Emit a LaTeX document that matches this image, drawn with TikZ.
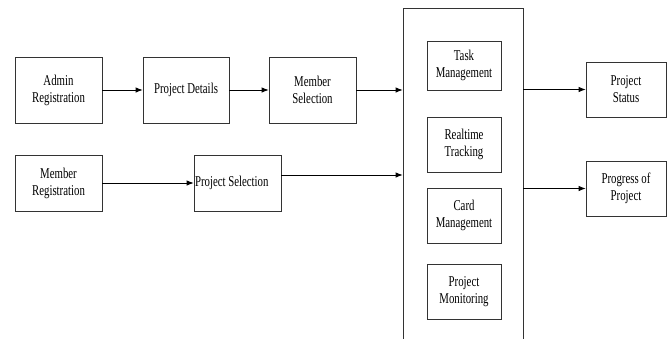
\documentclass[tikz,border=0pt]{standalone}
\usepackage{fontspec}
\setmainfont[FakeStretch=0.72]{Liberation Serif}
\usepackage{tikz}
\usetikzlibrary{arrows.meta}
\tikzset{>={Latex[length=7pt,width=5.5pt]}}

\begin{document}
\begin{tikzpicture}[x=1pt,y=-1pt,line width=0.8pt,
  main/.style = {draw=black!80, rectangle, align=center, inner sep=1pt,
    font=\fontsize{15}{17}\selectfont, minimum width=87pt, minimum height=66pt}]
\useasboundingbox (0,0) rectangle (669,338);
    \node[main] (1) at (58.5,90) {Admin\\Registration};
    \node[main,minimum width=86pt] (2) at (186,90) {Project Details};
    \node[main] (3) at (312.5,90) {Member\\Selection};
    \node[main,minimum height=56pt] (4) at (58.5,183) {Member\\Registration};
    \node[main,minimum height=56pt,text width=85pt,align=flush left] (5) at (237.5,183) {Project Selection};
    \node[main,minimum width=120pt,minimum height=336pt] (6) at (463,176) {};
    \node[main,minimum width=74pt,minimum height=49pt] (7) at (464,65.5) {Task\\Management};
    \node[main,minimum width=74pt,minimum height=55pt] (8) at (464,144.5) {Realtime\\Tracking};
    \node[main,minimum width=74pt,minimum height=55pt] (9) at (464,215.5) {Card\\Management};
    \node[main,minimum width=74pt,minimum height=55pt] (10) at (464,291.5) {Project\\Monitoring};
    \node[main,minimum width=80pt,minimum height=55pt] (11) at (626,89.5) {Project\\Status};
    \node[main,minimum width=80pt,minimum height=55pt] (12) at (626,188.5) {Progress of\\Project};
    \draw[->] (1) to (2);
    \draw[->] (2) to (3);
    \draw[->] (3) to (3 -| 6.west);
    \draw[->] (4) to (5);
    \draw[->] ([yshift=8pt]5.east) to ([yshift=8pt]5.east -| 6.west);
    \draw[->] (11 -| 6.east) to (11);
    \draw[->] (12 -| 6.east) to (12);
\end{tikzpicture}
\end{document}
